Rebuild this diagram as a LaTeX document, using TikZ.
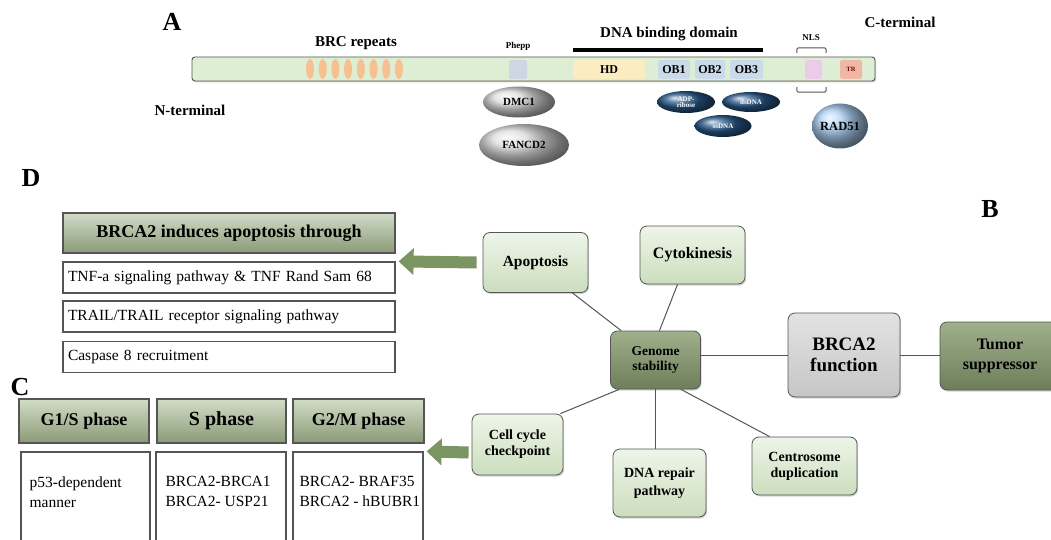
\documentclass[tikz,border=0pt]{standalone}
\usepackage{fontspec}
\setmainfont{Liberation Serif}
\usetikzlibrary{shapes.geometric, arrows.meta, positioning, calc, shadows}

\definecolor{barfill}{RGB}{222,238,212}
\definecolor{brcorange}{RGB}{246,192,144}
\definecolor{pheppblue}{RGB}{205,214,226}
\definecolor{hdyellow}{RGB}{252,236,194}
\definecolor{obblue}{RGB}{202,218,232}
\definecolor{nlspink}{RGB}{238,202,234}
\definecolor{trsalmon}{RGB}{238,184,164}
\definecolor{darkblue}{RGB}{40,88,136}
\definecolor{radblue}{RGB}{172,206,240}
\definecolor{paletop}{RGB}{238,245,232}
\definecolor{palebot}{RGB}{204,222,190}
\definecolor{olivetop}{RGB}{160,176,140}
\definecolor{olivebot}{RGB}{110,126,90}
\definecolor{headtop}{RGB}{210,220,200}
\definecolor{headbot}{RGB}{138,154,118}
\definecolor{arrowgreen}{RGB}{122,148,98}
\definecolor{edgegray}{RGB}{85,85,85}

\newcommand{\fs}[2]{\fontsize{#1}{#2}\selectfont}

\tikzset{
  panellbl/.style={font=\fs{26}{28}\bfseries},
  toplbl/.style={font=\fs{15}{17}\bfseries},
  softshadow/.style={drop shadow={shadow xshift=1.2pt, shadow yshift=-1.5pt, opacity=0.35}},
  protbar/.style={draw=edgegray, fill=barfill, rounded corners=3pt, line width=0.9pt,
    minimum width=683pt, minimum height=24pt, inner sep=0pt, softshadow},
  brc/.style={ellipse, fill=brcorange, minimum width=8pt, minimum height=20pt, inner sep=0pt},
  dom/.style={rounded corners=2.5pt, minimum height=19pt, inner sep=0pt, font=\fs{12}{14}\bfseries},
  partner/.style={ellipse, inner sep=0pt, font=\fs{11}{12}\bfseries},
  dnablob/.style={ellipse, ball color=darkblue, text=white, inner sep=0pt, align=center,
    font=\fs{7}{7}\bfseries},
  mapbox/.style={draw=edgegray, line width=0.8pt, rounded corners=7pt, align=center,
    top color=paletop, bottom color=palebot, inner sep=2pt, softshadow},
  hubbox/.style={mapbox, top color=olivetop, bottom color=olivebot},
  headbox/.style={draw=edgegray, line width=1.2pt, top color=headtop, bottom color=headbot,
    inner sep=0pt, font=\fs{18}{20}\bfseries},
  rowbox/.style={draw=edgegray, line width=1.2pt, fill=white, inner xsep=5pt, inner ysep=0pt,
    text width=322pt, align=left, minimum height=31pt, font=\fs{15.5}{18}},
  lowbox/.style={draw=edgegray, line width=1.2pt, fill=white, inner sep=0pt, minimum height=100pt},
  lowtxt/.style={anchor=north west, inner sep=0pt, align=left, font=\fs{15.5}{20}},
  blockarrow/.style={draw=arrowgreen, line width=12pt, -{Triangle[length=15pt, width=26pt]}},
  link/.style={draw=edgegray, line width=1pt}
}

\begin{document}
\begin{tikzpicture}[x=1pt, y=-1pt]
\useasboundingbox (0,0) rectangle (1051,540);

% panel letters
\node[panellbl] (labA) at (172,22) {A};
\node[panellbl] (labB) at (990,209) {B};
\node[panellbl] (labC) at (20,387) {C};
\node[panellbl] (labD) at (31,178) {D};

% ---- A: protein map ----
\node[protbar] (bar) at (533.5,69) {};
\foreach \i in {0,...,7}
  \node[brc] (brc\i) at ({310+12.7*\i},69) {};
\node[toplbl] (brclbl) at (356,43) {BRC repeats};
\node[toplbl] (nterm) at (190,110) {N-terminal};
\node[toplbl] (cterm) at (900,22) {C-terminal};

\node[dom, fill=pheppblue, minimum width=18pt] (phepp) at (518,69.5) {};
\node[font=\fs{9}{10}\bfseries] (pheppl) at (518,46) {Phepp};
\node[dom, fill=hdyellow, minimum width=72pt] (hd) at (609,69.5) {HD};
\node[dom, fill=obblue, minimum width=32pt] (ob1) at (674,69.5) {OB1};
\node[dom, fill=obblue, minimum width=30pt] (ob2) at (710,69.5) {OB2};
\node[dom, fill=obblue, minimum width=33pt] (ob3) at (746.5,69.5) {OB3};
\node[dom, fill=nlspink, minimum width=17pt] (nls) at (813.5,69.5) {};
\node[dom, fill=trsalmon, minimum width=22pt, font=\fs{6.5}{7}\bfseries, text=red!45!black] (tr) at (851,69.5) {TR};

\draw[line width=4pt] ([yshift=10pt]hd.north west) -- ([yshift=10pt]ob3.north east);
\node[toplbl] (dbdlbl) at (669,34) {DNA binding domain};

% NLS brackets
\draw[edgegray, line width=1pt, rounded corners=2pt]
  ([xshift=-8pt,yshift=7pt]nls.north west) -- ([xshift=-8pt,yshift=12pt]nls.north west)
  -- ([xshift=4pt,yshift=12pt]nls.north east) -- ([xshift=4pt,yshift=7pt]nls.north east);
\draw[edgegray, line width=1pt, rounded corners=2pt]
  ([xshift=-8pt,yshift=-8pt]nls.south west) -- ([xshift=-8pt,yshift=-13pt]nls.south west)
  -- ([xshift=4pt,yshift=-13pt]nls.south east) -- ([xshift=4pt,yshift=-8pt]nls.south east);
\node[font=\fs{9}{10}\bfseries] (nlslbl) at (811,38) {NLS};

% binding partners
\node[partner, ball color=gray!28, minimum width=72pt, minimum height=31pt] (dmc1) at (519,102) {DMC1};
\node[partner, ball color=gray!28, minimum width=90pt, minimum height=42pt] (fancd2) at (524,145) {FANCD2};
\node[dnablob, minimum width=58pt, minimum height=22pt] (adpr) at (686,102) {ADP-\\[-1pt]ribose};
\node[dnablob, minimum width=58pt, minimum height=20pt] (dsdna) at (751,102) {dsDNA};
\node[dnablob, minimum width=57pt, minimum height=22pt] (ssdna) at (723,126) {ssDNA};
\node[partner, ball color=radblue, minimum width=55pt, minimum height=45pt, font=\fs{12.5}{14}\bfseries] (rad51) at (840,126) {RAD51};

% ---- B: function map ----
\node[mapbox, minimum width=105pt, minimum height=60pt, font=\fs{15.5}{17}\bfseries] (apop) at (535.5,262.5) {Apoptosis};
\node[mapbox, minimum width=105pt, minimum height=58pt, font=\fs{16}{18}\bfseries] (cyto) at (692.5,255) {Cytokinesis};
\node[hubbox, minimum width=90pt, minimum height=58pt, font=\fs{13.5}{15}\bfseries] (genome) at (655.5,360) {Genome\\stability};
\node[mapbox, top color=gray!22, bottom color=gray!45, minimum width=112pt, minimum height=84pt, font=\fs{19}{21}\bfseries] (brca) at (844,355) {BRCA2\\function};
\node[hubbox, minimum width=120pt, minimum height=68pt, font=\fs{16}{20}\bfseries] (tumor) at (1000,356) {Tumor\\suppressor};
\node[mapbox, minimum width=91pt, minimum height=61pt, font=\fs{14}{16}\bfseries] (cell) at (517.5,444.5) {Cell cycle\\checkpoint};
\node[mapbox, minimum width=93pt, minimum height=68pt, font=\fs{14}{17.5}\bfseries] (dnarep) at (659.5,483) {DNA repair\\pathway};
\node[mapbox, minimum width=105pt, minimum height=58pt, font=\fs{14}{16}\bfseries] (centro) at (804.5,466) {Centrosome\\duplication};

\draw[link] ([xshift=-16pt]apop.south east) -- ([xshift=11pt]genome.north west);
\draw[link] ([xshift=-15pt]cyto.south) -- ([xshift=4pt]genome.north);
\draw[link] (genome.east |- brca.west) -- (brca.west);
\draw[link] (brca.east) -- (brca.east -| tumor.west);
\draw[link] ([xshift=9pt]genome.south west) -- ([xshift=-3pt]cell.north east);
\draw[link] (genome.south) -- (genome.south |- dnarep.north);
\draw[link] ([xshift=-20pt]genome.south east) -- ([xshift=18pt]centro.north west);

% ---- D: apoptosis table ----
\node[headbox, minimum width=332pt, minimum height=40pt] (dhead) at (229,233) {BRCA2 induces apoptosis through};
\node[rowbox] (drow1) at (229,277.5) {TNF-a signaling pathway \& TNF Rand Sam 68};
\node[rowbox] (drow2) at (229,316.5) {TRAIL/TRAIL receptor signaling pathway};
\node[rowbox] (drow3) at (229,357) {Caspase 8 recruitment};
\draw[blockarrow] ([xshift=-6pt]apop.west) -- ([xshift=3pt]drow1.north east);

% ---- C: cell cycle table ----
\node[headbox, minimum width=130pt, minimum height=44pt] (g1s) at (84,421) {G1/S phase};
\node[headbox, minimum width=129pt, minimum height=44pt, font=\fs{20}{22}\bfseries] (sph) at (221.5,421) {S phase};
\node[headbox, minimum width=131pt, minimum height=44pt] (g2m) at (358.5,421) {G2/M phase};
\node[lowbox, minimum width=129pt] (g1low) at (85.5,502) {};
\node[lowbox, minimum width=130pt] (slow) at (221,502) {};
\node[lowbox, minimum width=130pt] (g2low) at (358,502) {};
\node[lowtxt] (g1txt) at ([xshift=9pt,yshift=-25pt]g1low.north west) {p53-dependent\\manner};
\node[lowtxt] (stxt) at ([xshift=10pt,yshift=-25pt]slow.north west) {BRCA2-BRCA1\\BRCA2- USP21};
\node[lowtxt] (g2txt) at ([xshift=7pt,yshift=-25pt]g2low.north west) {BRCA2- BRAF35\\BRCA2 - hBUBR1};
\draw[blockarrow] ([xshift=-3pt,yshift=-8pt]cell.west) -- ([xshift=3pt]g2low.north east);

\end{tikzpicture}
\end{document}
